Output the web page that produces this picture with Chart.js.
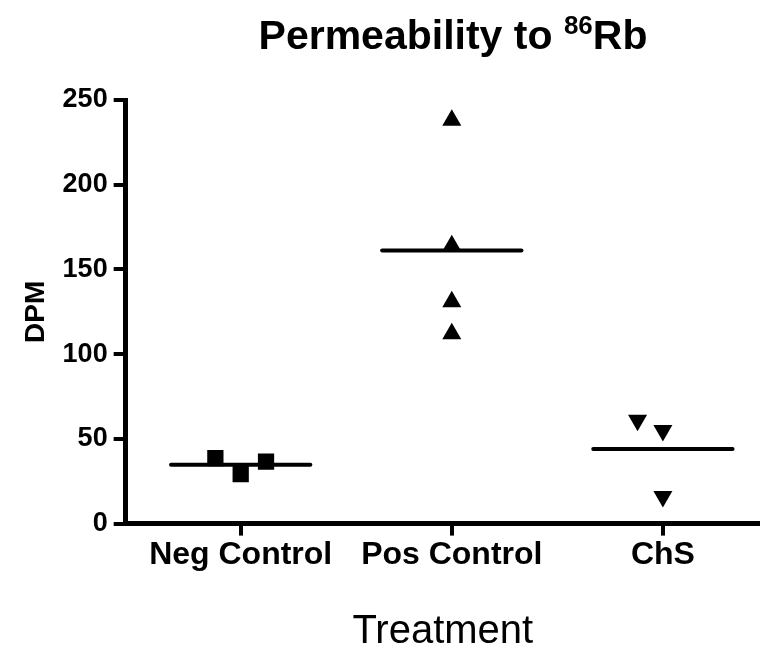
<!DOCTYPE html>
<html>
<head>
<meta charset="utf-8">
<script src="https://cdn.jsdelivr.net/npm/chart.js@4"></script>
<style>
  html, body { margin: 0; padding: 0; background: #fff; }
  #wrap { position: relative; width: 760px; height: 652px; }
  #title {
    position: absolute; top: 12px; left: 130px; width: 646px;
    text-align: center; font: bold 41px "Liberation Sans", Arial, sans-serif; color: #000;
  }
  #title sup { font-size: 26px; vertical-align: 15px; line-height: 0; }
</style>
</head>
<body>
<div id="wrap">
  <div id="title">Permeability to <sup>86</sup>Rb</div>
  <canvas id="chart" width="760" height="652"></canvas>
</div>
<script>
// groups along the x axis
const categories = ['Neg Control', 'Pos Control', 'ChS'];

// DPM values
const negControl = [38.6, 29.2, 36.6];
const posControl = [238, 164, 131, 112];
const chs = [61, 55, 16];

// horizontal spread of the points inside each column (category units)
const negJitter = [-0.12, 0, 0.12];
const posJitter = [0, 0, 0, 0];
const chsJitter = [-0.12, 0, 0];

const yTicks = [0, 50, 100, 150, 200, 250];

function points(values, jitter, col) {
    return values.map((v, i) => ({ x: col + jitter[i], y: v }));
}

function mean(values) {
    return values.reduce((a, b) => a + b, 0) / values.length;
}

function meanLine(values, col) {
    const m = mean(values);
    return {
        type: 'line',
        data: [{ x: col - 0.33, y: m }, { x: col + 0.33, y: m }],
        borderColor: '#000',
        borderWidth: 4,
        borderCapStyle: 'round',
        pointRadius: 0,
        showLine: true
    };
}

new Chart(document.getElementById('chart'), {
    type: 'scatter',
    data: {
        datasets: [
            meanLine(negControl, 1),
            meanLine(posControl, 2),
            meanLine(chs, 3),
            {
                data: points(negControl, negJitter, 1),
                pointStyle: 'rect',
                pointRadius: 11.5,
                backgroundColor: '#000',
                borderWidth: 0
            },
            {
                data: points(posControl, posJitter, 2),
                pointStyle: 'triangle',
                pointRadius: 11,
                backgroundColor: '#000',
                borderWidth: 0
            },
            {
                data: points(chs, chsJitter, 3),
                pointStyle: 'triangle',
                rotation: 180,
                pointRadius: 11,
                backgroundColor: '#000',
                borderWidth: 0
            }
        ]
    },
    options: {
        responsive: false,
        animation: false,
        events: [],
        layout: { autoPadding: false, padding: { top: 100, right: 0, bottom: 0, left: 19 } },
        plugins: {
            legend: { display: false },
            tooltip: { enabled: false }
        },
        scales: {
            x: {
                type: 'linear',
                min: 0.455,
                max: 3.46,
                afterBuildTicks: axis => {
                    axis.ticks = categories.map((c, i) => ({ value: i + 1 }));
                },
                // let the axis run to the right edge of the canvas
                afterFit: axis => {
                    axis.paddingLeft = 0;
                    axis.paddingRight = 0;
                },
                ticks: {
                    color: '#000',
                    font: { family: 'Liberation Sans', size: 32, weight: 'bold' },
                    padding: 0,
                    maxRotation: 0,
                    autoSkip: false,
                    callback: v => categories[v - 1]
                },
                grid: {
                    drawOnChartArea: false,
                    drawTicks: true,
                    tickLength: 12,
                    lineWidth: 4,
                    color: '#000'
                },
                border: { display: true, width: 5, color: '#000' },
                title: {
                    display: true,
                    text: 'Treatment',
                    color: '#000',
                    font: { family: 'Liberation Sans', size: 40, lineHeight: 1 },
                    padding: { top: 38, bottom: 0 }
                }
            },
            y: {
                min: 0,
                max: 250,
                afterBuildTicks: axis => {
                    axis.ticks = yTicks.map(v => ({ value: v }));
                },
                ticks: {
                    color: '#000',
                    font: { family: 'Liberation Sans', size: 27, weight: 'bold' },
                    padding: 6
                },
                grid: {
                    drawOnChartArea: false,
                    drawTicks: true,
                    tickLength: 12,
                    lineWidth: 4,
                    color: '#000'
                },
                border: { display: true, width: 5, color: '#000' },
                title: {
                    display: true,
                    text: 'DPM',
                    color: '#000',
                    font: { family: 'Liberation Sans', size: 28, weight: 'bold' },
                    padding: { top: 0, bottom: 4 }
                }
            }
        }
    }
});
</script>
</body>
</html>
